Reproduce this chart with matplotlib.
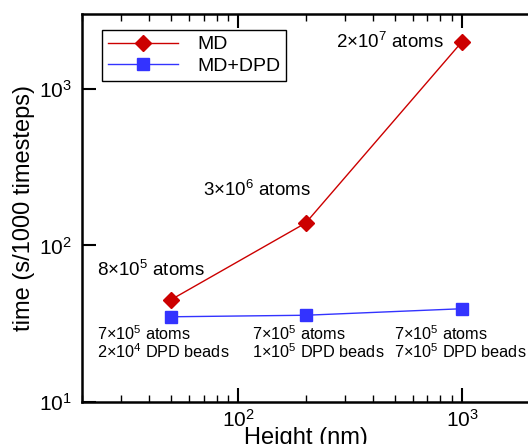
import matplotlib
matplotlib.use("Agg")
import matplotlib.pyplot as plt
from matplotlib.ticker import LogLocator, NullLocator, NullFormatter

plt.rcParams['font.family'] = ['Liberation Sans', 'DejaVu Sans']
plt.rcParams['mathtext.fontset'] = 'custom'
plt.rcParams['mathtext.rm'] = 'Liberation Sans'
plt.rcParams['mathtext.it'] = 'Liberation Sans:italic'
plt.rcParams['mathtext.bf'] = 'Liberation Sans:bold'

height_nm = [50, 200, 1000]
time_md = [45, 139, 2000]
time_mddpd = [35, 35.8, 39.4]
md_labels = ['8×10$^{5}$ atoms', '3×10$^{6}$ atoms', '2×10$^{7}$ atoms']
dpd_labels = ['7×10$^{5}$ atoms\n2×10$^{4}$ DPD beads',
              '7×10$^{5}$ atoms\n1×10$^{5}$ DPD beads',
              '7×10$^{5}$ atoms\n7×10$^{5}$ DPD beads']

fig = plt.figure(figsize=(5.28, 4.44), dpi=100)
ax = fig.add_axes([82/528, 42/444, (529.5-82)/528, 388/444])

ax.plot(height_nm, time_md, color='#cc0000', lw=1.0, marker='D', ms=8,
        mec='#cc0000', mfc='#cc0000', label='MD')
ax.plot(height_nm, time_mddpd, color='#3333ff', lw=1.0, marker='s', ms=8,
        mec='#3333ff', mfc='#3333ff', label='MD+DPD')

ax.set_xscale('log')
ax.set_yscale('log')
ax.set_xlim(20, 2000)
ax.set_ylim(10, 3000)

ax.xaxis.set_major_locator(LogLocator(base=10, numticks=10))
ax.xaxis.set_minor_locator(LogLocator(base=10, subs=range(2, 10), numticks=10))
ax.xaxis.set_minor_formatter(NullFormatter())
ax.yaxis.set_major_locator(LogLocator(base=10, numticks=10))
ax.yaxis.set_minor_locator(NullLocator())

ax.tick_params(which='both', direction='in', top=True, right=False,
               labelsize=15, width=1.5)
ax.tick_params(axis='y', pad=7)
ax.tick_params(axis='x', pad=5)
ax.tick_params(which='major', length=10)
ax.tick_params(which='minor', length=5, width=1)
for s in ax.spines.values():
    s.set_linewidth(1.8)

ax.set_xlabel('Height (nm)', fontsize=17, labelpad=-3)
ax.set_ylabel('time (s/1000 timesteps)', fontsize=17, labelpad=3)

md_text_pos = [(97, 270), (203, 190), (336, 42)]
for (px, py), lab in zip(md_text_pos, md_labels):
    ax.annotate(lab, xy=(px, 444 - py), xycoords='figure pixels',
                fontsize=13.5, ha='left', va='center')

dpd_text_pos = [(97, 343), (252, 343), (394, 343)]
for (px, py), lab in zip(dpd_text_pos, dpd_labels):
    ax.annotate(lab, xy=(px, 444 - py), xycoords='figure pixels',
                fontsize=11.7, ha='left', va='center', linespacing=0.95)

leg = ax.legend(loc='upper left', bbox_to_anchor=(102/528, (444-30)/444),
                bbox_transform=fig.transFigure, borderaxespad=0,
                fontsize=14, frameon=True,
                fancybox=False, edgecolor='black', framealpha=1,
                handlelength=3.6, borderpad=0.3, labelspacing=0.2,
                handletextpad=1.0)
leg.get_frame().set_linewidth(1.0)

fig.savefig('out.png', dpi=100)
